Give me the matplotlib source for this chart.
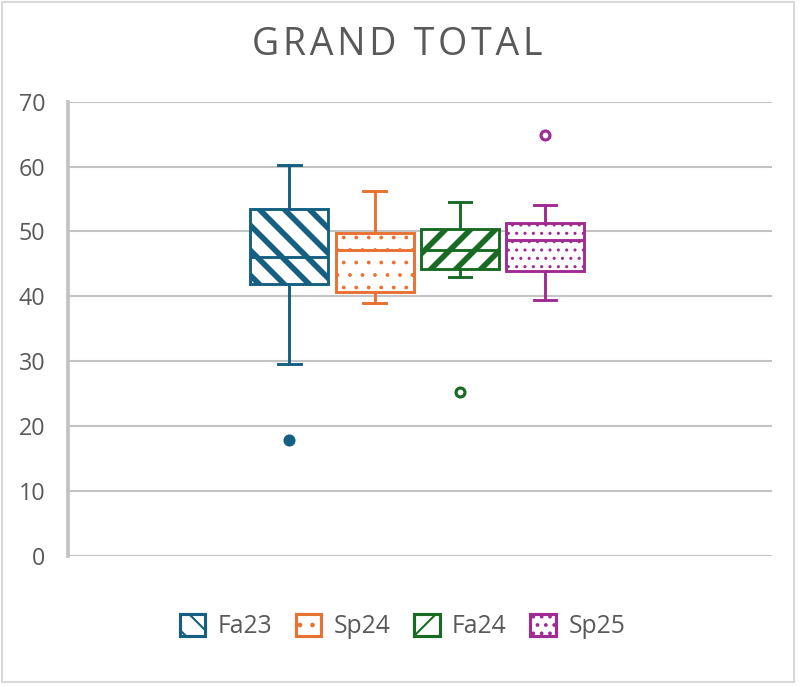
import matplotlib.pyplot as plt
from matplotlib.patches import Patch, Rectangle

# values (Excel box & whisker)
terms = ["Fa23", "Sp24", "Fa24", "Sp25"]
whis_lo = [29.6, 39.0, 43.0, 39.5]
q1 = [41.9, 40.7, 44.2, 43.9]
med = [46.0, 47.1, 47.1, 48.7]
q3 = [53.4, 49.8, 50.3, 51.3]
whis_hi = [60.3, 56.2, 54.5, 54.0]
outliers = [[17.9], [], [25.3], [64.9]]
yticks = [0, 10, 20, 30, 40, 50, 60, 70]

colors = ["#156082", "#E97132", "#196B24", "#A02B93"]
hatches = ["\\\\", "..", "//", "..."]
hatch_lw = [2.7, 0.6, 2.7, 0.7]
filled_flier = [True, False, False, False]

txt = "#595959"
grid = "#C3C3C3"
plt.rcParams["font.family"] = ["Open Sans", "DejaVu Sans"]

# dpi 150 so that the hatch cell gives the wide Excel pattern spacing
fig = plt.figure(figsize=(800 / 150, 687 / 150), dpi=150)
ax = fig.add_axes([0.085, 0.191, 0.88, 0.661])

stats = []
for i in range(len(terms)):
    stats.append(dict(label=terms[i], whislo=whis_lo[i], q1=q1[i], med=med[i],
                      q3=q3[i], whishi=whis_hi[i], fliers=outliers[i]))

pos = [0.496 + (i - 1.5) * 0.121 for i in range(len(terms))]
bp = ax.bxp(stats, positions=pos, widths=0.111, capwidths=0.032,
            patch_artist=True, showfliers=True, manage_ticks=False)

for i, c in enumerate(colors):
    box = bp["boxes"][i]
    box.set_facecolor("white")
    box.set_edgecolor(c)
    box.set_linewidth(1.4)
    box.set_hatch(hatches[i])
    if hasattr(box, "set_hatch_linewidth"):
        box.set_hatch_linewidth(hatch_lw[i])
    box.set_zorder(3)
    bp["medians"][i].set(color=c, linewidth=1.4, zorder=4)
    for k in (2 * i, 2 * i + 1):
        bp["whiskers"][k].set(color=c, linewidth=1.4, zorder=2)
        bp["caps"][k].set(color=c, linewidth=1.4, zorder=2)
    bp["fliers"][i].set(marker="o", markersize=4.3, markeredgecolor=c,
                        markeredgewidth=1.5,
                        markerfacecolor=c if filled_flier[i] else "white", zorder=4)

ax.set_xlim(0, 1)
ax.set_ylim(0, 70)
ax.set_yticks(yticks)
ax.set_xticks([])
ax.yaxis.grid(True, color=grid, linewidth=1.0)
ax.set_axisbelow(True)
ax.tick_params(axis="y", length=0, pad=11, labelsize=11.2, labelcolor=txt)
for s in ("top", "right", "bottom"):
    ax.spines[s].set_visible(False)
ax.spines["left"].set_color(grid)
ax.spines["left"].set_linewidth(1.8)

fig.text(0.496, 0.934, "\u200a".join("GRAND TOTAL"), ha="center", va="center",
         fontsize=18, color=txt)

handles = []
for c, h, lw in zip(colors, hatches, hatch_lw):
    p = Patch(facecolor="white", edgecolor=c, hatch=h, linewidth=1.5)
    if hasattr(p, "set_hatch_linewidth"):
        p.set_hatch_linewidth(lw)
    handles.append(p)
leg = fig.legend(handles, terms, loc="center", bbox_to_anchor=(0.503, 0.088),
                 ncol=4, frameon=False, fontsize=11.8, handlelength=1.05,
                 handleheight=1.05, handletextpad=0.5, columnspacing=0.95)
for t in leg.get_texts():
    t.set_color(txt)

fig.patches.append(Rectangle((0.003, 0.007), 0.989, 0.99, transform=fig.transFigure,
                             fill=False, edgecolor="#D9D9D9", linewidth=1.0))

fig.savefig("out.png", dpi=150)
